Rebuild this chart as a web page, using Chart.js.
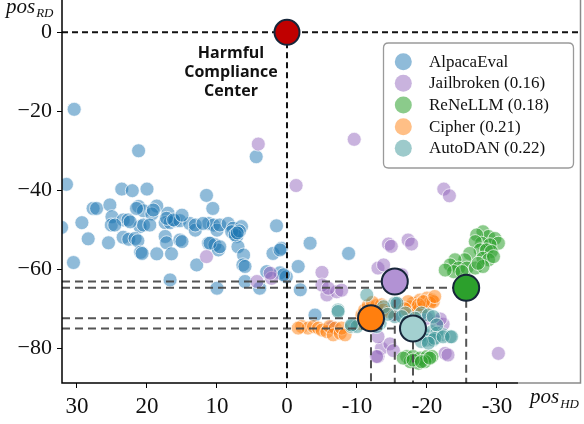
<!DOCTYPE html>
<html><head><meta charset="utf-8">
<script src="https://cdn.jsdelivr.net/npm/chart.js@4/dist/chart.umd.min.js"></script>
<style>html,body{margin:0;padding:0;background:#fff}canvas{display:block}</style>
</head><body>
<canvas id="c" width="584" height="424" style="width:584px;height:424px"></canvas>
<script>
const xTicks=[30,20,10,0,-10,-20,-30];
const yTicks=[0,-20,-40,-60,-80];
const xLimits=[-42.0,32.14];
const yLimits=[-88.8,8.18];
const seriesNames=['AlpacaEval','Jailbroken (0.16)','ReNeLLM (0.18)','Cipher (0.21)','AutoDAN (0.22)'];

const alpacaX=[30.4,21.2,31.5,23.6,22.1,20.0,27.7,27.2,25.3,21.2,20.5,18.6,19.3,25.0,17.0,29.3,32.2,25.1,23.4,22.7,21.0,20.5,19.6,17.4,16.7,16.0,15.3,28.4,25.5,23.4,22.6,21.7,21.3,17.4,17.2,15.3,20.9,20.7,18.6,16.5,30.5,16.7,
4.4,11.5,10.6,13.9,13.1,11.2,10.5,10.0,9.6,8.4,7.7,7.0,6.5,7.2,1.5,15.0,11.2,10.3,9.8,7.0,6.2,2.0,0.8,12.9,6.3,-1.6,2.9,1.0,0.1,6.0,10.0,3.9,-1.9,
24.6,22.4,21.5,19.1,17.2,16.2,15.0,13.1,12.0,11.0,9.6,7.9,7.4,6.0,1.0,-3.3,-8.8,0.5,-4.0,6.8,7.1];
const alpacaY=[-19.5,-30.0,-38.5,-39.7,-40.1,-39.7,-44.6,-44.6,-43.7,-44.1,-45.2,-44.0,-46.0,-46.7,-45.8,-48.2,-49.4,-48.8,-47.5,-47.5,-49.2,-48.8,-48.8,-48.2,-48.2,-47.7,-47.7,-52.3,-53.3,-51.9,-52.4,-52.2,-52.8,-51.7,-53.3,-52.6,-55.7,-56.0,-56.1,-56.1,-58.3,-62.7,
-31.5,-41.3,-44.6,-48.4,-50.1,-48.4,-48.8,-50.1,-48.8,-48.4,-49.6,-50.9,-49.2,-51.7,-49.0,-53.0,-53.4,-53.8,-55.1,-54.3,-56.4,-56.0,-54.7,-58.9,-58.9,-59.3,-60.6,-60.9,-61.9,-63.1,-64.8,-64.8,-65.2,
-48.8,-48.0,-44.6,-45.0,-47.1,-47.5,-46.3,-48.8,-48.4,-53.4,-54.3,-50.5,-51.3,-59.3,-55.1,-53.4,-56.0,-61.4,-71.6,-50.3,-50.8];

const jailX=[4.1,-1.3,-9.6,-22.4,-23.2,11.5,4.3,2.2,2.4,-5.0,-5.7,-5.0,-7.1,-7.8,-13.0,-13.8,-14.5,-14.9,-17.3,-17.8,-13.5,-13.0,-14.7,-15.2,-13.0,-15.9,-16.4,-20.0,-21.4,-22.3,-21.9,-22.6,-23.0,-30.2,-12.8,-5.9,-15.3,-6.4];
const jailY=[-28.3,-38.8,-27.1,-39.7,-41.4,-56.8,-63.1,-62.3,-61.0,-60.8,-66.5,-64.0,-65.7,-65.3,-59.7,-58.9,-53.6,-54.2,-52.6,-53.6,-80.0,-82.1,-78.9,-80.6,-77.1,-69.0,-61.4,-72.4,-73.3,-73.9,-72.6,-81.3,-81.7,-81.3,-82.1,-64.8,-71.5,-74.7];

const reneX=[-28.0,-28.8,-29.7,-30.2,-27.1,-27.8,-29.0,-26.9,-27.6,-28.5,-29.2,-26.1,-28.0,-28.8,-25.4,-24.0,-23.3,-24.5,-25.7,-26.9,-28.0,-23.8,-25.0,-27.3,-29.5,-22.6,
-17.1,-18.0,-19.0,-20.0,-20.7,-17.6,-18.8,-19.7,-16.6,-18.0,-19.2,-20.4];
const reneY=[-50.5,-51.7,-52.2,-53.4,-51.3,-53.4,-53.8,-53.0,-55.1,-55.1,-55.5,-56.0,-57.2,-57.6,-57.6,-57.6,-58.9,-59.7,-59.7,-59.7,-59.3,-60.6,-60.6,-58.5,-56.8,-60.2,
-82.1,-82.1,-82.5,-82.1,-82.1,-83.4,-83.8,-83.4,-82.5,-83.0,-83.4,-82.5];

const cipherX=[-2.1,-3.0,-3.8,-4.5,-5.0,-5.7,-6.1,-6.9,-6.6,-7.6,-7.8,-8.3,-1.6,-10.7,-11.1,-11.6,-12.8,-13.5,-13.8,-10.4,
-18.0,-19.0,-20.0,-20.7,-17.6,-18.5,-19.5,-20.4,-20.9,-17.3,-18.8,-19.5,-21.1,-16.8,-14.6,-12.2];
const cipherY=[-74.5,-74.9,-74.5,-74.9,-75.4,-75.8,-74.5,-74.9,-76.6,-76.2,-74.9,-76.6,-74.9,-71.6,-70.3,-69.2,-69.2,-69.0,-70.3,-73.7,
-68.6,-67.8,-67.3,-67.8,-69.5,-69.9,-69.5,-68.6,-68.2,-68.2,-69.0,-68.2,-66.9,-70.0,-70.8,-68.4];

const autoX=[-7.3,-9.2,-10.0,-11.4,-13.3,-12.8,-15.4,-15.4,-13.8,-15.7,-16.9,-19.0,-19.7,-20.7,-21.4,-22.3,-23.3,-20.0,-20.9,-19.2,-20.2,-20.9,-18.3,-21.4,-9.2,-7.3,
-21.1,-22.3,-23.5,-16.4,-19.2,-20.2,-17.2,-14.4];
const autoY=[-70.3,-74.5,-74.5,-66.5,-73.7,-74.5,-68.6,-72.0,-69.5,-68.6,-71.1,-75.8,-76.6,-75.8,-76.2,-76.6,-77.1,-77.9,-77.9,-71.1,-71.6,-72.0,-72.4,-74.1,-74.1,-70.7,
-77.5,-77.1,-77.1,-72.0,-78.3,-78.7,-73.4,-71.4];

// attack centers (Jailbroken, ReNeLLM, Cipher, AutoDAN) and the harmful compliance center
const centerX=[-15.4,-25.6,-12.0,-18.0];
const centerY=[-63.1,-64.7,-72.4,-75.0];
const harmfulCenter=[0,0];

const smallColors=['rgba(31,119,180,0.5)','rgba(148,103,189,0.5)','rgba(44,160,44,0.55)','rgba(255,127,14,0.5)','rgba(60,150,152,0.5)'];
const bigColors=['rgb(178,146,212)','rgb(44,160,44)','rgb(255,127,14)','rgb(163,208,208)'];

const seriesX=[alpacaX,jailX,reneX,cipherX,autoX];
const seriesY=[alpacaY,jailY,reneY,cipherY,autoY];

const datasets=[];
seriesX.forEach((xs,i)=>{
  datasets.push({label:seriesNames[i],data:xs.map((x,k)=>({x:x,y:seriesY[i][k]})),
    backgroundColor:smallColors[i],borderColor:'rgba(255,255,255,0.7)',borderWidth:1,
    pointRadius:7,order:50-i*10});
});
centerX.forEach((cx,i)=>{
  datasets.push({label:'guide'+i,data:[{x:xLimits[1],y:centerY[i]},{x:cx,y:centerY[i]},{x:cx,y:yLimits[0]}],
    showLine:true,pointRadius:0,borderColor:'rgba(75,75,75,0.95)',borderWidth:2,borderDash:[8,5],fill:false,order:5});
});
datasets.push({label:'hc-h',data:[{x:xLimits[1],y:harmfulCenter[1]},{x:xLimits[0],y:harmfulCenter[1]}],
  showLine:true,pointRadius:0,borderColor:'#111',borderWidth:2,borderDash:[6,4],fill:false,order:4});
datasets.push({label:'hc-v',data:[{x:harmfulCenter[0],y:harmfulCenter[1]},{x:harmfulCenter[0],y:yLimits[0]}],
  showLine:true,pointRadius:0,borderColor:'#111',borderWidth:2,borderDash:[6,4],fill:false,order:4});
centerX.forEach((cx,i)=>{
  datasets.push({label:'center'+i,data:[{x:cx,y:centerY[i]}],backgroundColor:bigColors[i],
    borderColor:'#17263a',borderWidth:2,pointRadius:13,order:2});
});
datasets.push({label:'harmful',data:[{x:harmfulCenter[0],y:harmfulCenter[1]}],backgroundColor:'rgb(192,0,0)',
  borderColor:'#17263a',borderWidth:2,pointRadius:12.5,order:1});

const deco={
  id:'deco',
  afterDatasetsDraw(chart){
    const {ctx,chartArea:a,scales:{x,y}}=chart;
    ctx.save();
    ctx.strokeStyle='#8a8a8a';ctx.lineWidth=1.5;
    ctx.beginPath();ctx.moveTo(a.right-0.5,a.top);ctx.lineTo(a.right-0.5,a.bottom);
    ctx.lineTo(x.getPixelForValue(-33),a.bottom);ctx.stroke();
    ctx.strokeStyle='#000';ctx.lineWidth=1.5;
    ctx.beginPath();ctx.moveTo(a.left,a.top);ctx.lineTo(a.left,a.bottom);
    ctx.lineTo(x.getPixelForValue(-33),a.bottom);ctx.stroke();
    ctx.fillStyle='#111';ctx.font='bold 16px "Open Sans"';ctx.textAlign='center';ctx.textBaseline='middle';
    const ax=x.getPixelForValue(8);
    ['Harmful','Compliance','Center'].forEach((t,i)=>ctx.fillText(t,ax,y.getPixelForValue(-5.3-i*4.8)));
    const lx=383.5,ly=43,lw=190,lh=125,r=5;
    ctx.beginPath();
    ctx.moveTo(lx+r,ly);ctx.lineTo(lx+lw-r,ly);ctx.quadraticCurveTo(lx+lw,ly,lx+lw,ly+r);
    ctx.lineTo(lx+lw,ly+lh-r);ctx.quadraticCurveTo(lx+lw,ly+lh,lx+lw-r,ly+lh);
    ctx.lineTo(lx+r,ly+lh);ctx.quadraticCurveTo(lx,ly+lh,lx,ly+lh-r);
    ctx.lineTo(lx,ly+r);ctx.quadraticCurveTo(lx,ly,lx+r,ly);ctx.closePath();
    ctx.fillStyle='rgba(255,255,255,0.85)';ctx.fill();
    ctx.strokeStyle='#9a9a9a';ctx.lineWidth=1.3;ctx.stroke();
    ctx.textAlign='left';ctx.font='17px "Liberation Serif"';
    seriesNames.forEach((n,i)=>{
      const cy=61.7+i*21.65;
      ctx.beginPath();ctx.arc(403.3,cy,8.5,0,Math.PI*2);ctx.fillStyle=smallColors[i];ctx.fill();
      ctx.fillStyle='#111';ctx.fillText(n,429,cy+0.5);
    });
    ctx.textBaseline='alphabetic';ctx.fillStyle='#111';
    ctx.font='italic 21px "Liberation Serif"';
    ctx.fillText('pos',6,13);
    let w=ctx.measureText('pos').width;
    ctx.font='italic 13px "Liberation Serif"';
    ctx.fillText('RD',6+w+1,17);
    ctx.font='italic 21px "Liberation Serif"';
    ctx.fillText('pos',530,403);
    w=ctx.measureText('pos').width;
    ctx.font='italic 13px "Liberation Serif"';
    ctx.fillText('HD',530+w+1,408);
    ctx.restore();
  }
};

new Chart(document.getElementById('c'),{
  type:'scatter',
  data:{datasets},
  options:{
    responsive:false,animation:false,devicePixelRatio:1,
    layout:{autoPadding:false,padding:{left:0,right:3,top:0,bottom:0}},
    plugins:{legend:{display:false},tooltip:{enabled:false}},
    scales:{
      x:{type:'linear',min:xLimits[0],max:xLimits[1],reverse:true,
        afterBuildTicks:s=>{s.ticks=xTicks.map(v=>({value:v}));},
        afterFit:s=>{s.height=41;s.paddingLeft=0;s.paddingRight=0;s.paddingTop=0;s.paddingBottom=0;},
        ticks:{font:{family:'Liberation Serif',size:23},color:'#111',padding:5,maxRotation:0,autoSkip:false,callback:v=>String(v)},
        grid:{drawOnChartArea:false,drawTicks:true,tickLength:5,color:'#000',lineWidth:1},
        border:{display:false}},
      y:{type:'linear',min:yLimits[0],max:yLimits[1],
        afterBuildTicks:s=>{s.ticks=yTicks.map(v=>({value:v}));},
        afterFit:s=>{s.width=62;s.paddingLeft=0;s.paddingRight=0;s.paddingTop=0;s.paddingBottom=0;},
        ticks:{font:{family:'Liberation Serif',size:22},color:'#111',padding:5,callback:v=>v<0?'\u2212'+Math.abs(v):String(v)},
        grid:{drawOnChartArea:false,drawTicks:true,tickLength:5,color:'#000',lineWidth:1},
        border:{display:false}}
    }
  },
  plugins:[deco]
});
</script>
</body></html>
